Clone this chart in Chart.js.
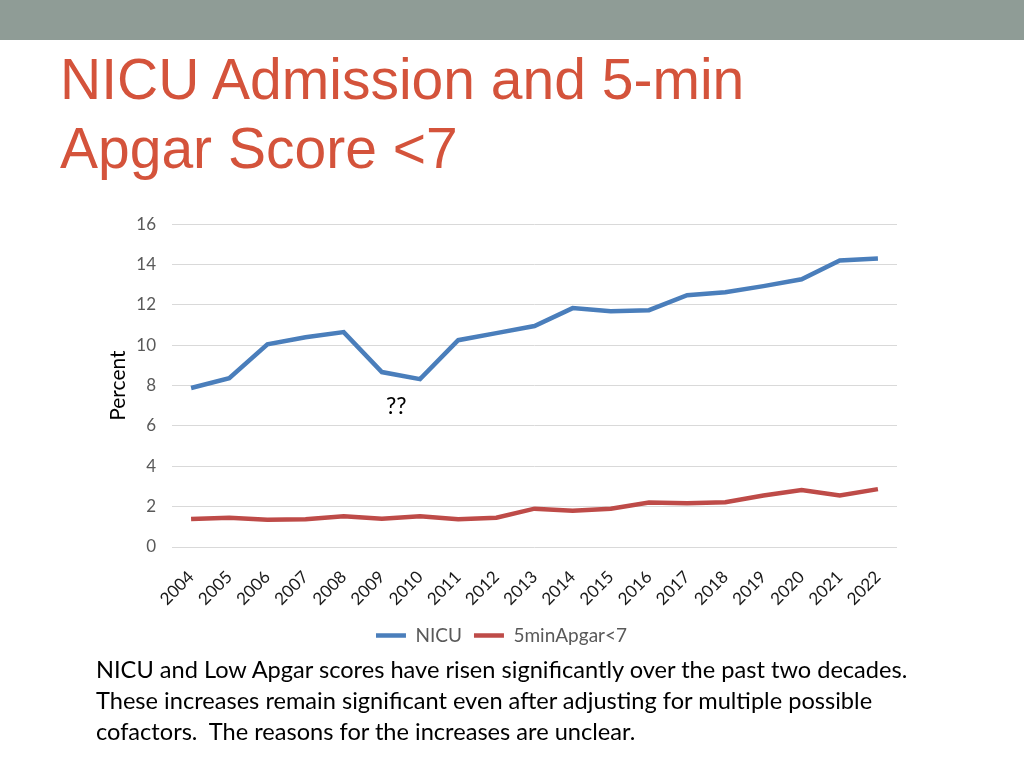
<!DOCTYPE html>
<html>
<head>
<meta charset="utf-8">
<script src="https://cdn.jsdelivr.net/npm/chart.js@4.4.1/dist/chart.umd.min.js"></script>
<style>
  html, body { margin: 0; padding: 0; background: #fff; }
  body { width: 1024px; height: 768px; position: relative; overflow: hidden; }
  .banner { position: absolute; left: 0; top: 0; width: 1024px; height: 40px; background: #8f9c96; }
  .title { position: absolute; left: 60px; top: 45px; margin: 0; font: 400 57px/69px "Liberation Sans", Arial, sans-serif; color: #d4533b; }
  .note { position: absolute; left: 386px; top: 391px; font: 23px "Lato", sans-serif; color: #000; }
  .body { position: absolute; left: 96px; top: 654px; margin: 0; font: 23.6px/31px "Lato", sans-serif; color: #000; }
  #wrap { position: absolute; left: 100px; top: 198px; width: 810px; height: 457px; }
</style>
</head>
<body>
<div class="banner"></div>
<h1 class="title">NICU Admission and 5-min<br>Apgar Score &lt;7</h1>
<div id="wrap"><canvas id="chart"></canvas></div>
<div class="note">??</div>
<p class="body">NICU and Low Apgar scores have risen significantly over the past two decades.<br>These increases remain significant even after adjusting for multiple possible<br>cofactors.&nbsp; The reasons for the increases are unclear.</p>
<script>
const years = ['2004', '2005', '2006', '2007', '2008', '2009', '2010', '2011', '2012', '2013',
  '2014', '2015', '2016', '2017', '2018', '2019', '2020', '2021', '2022'];
const nicu = [7.88, 8.37, 10.05, 10.4, 10.65, 8.67, 8.32, 10.25, 10.6, 10.95,
  11.84, 11.69, 11.74, 12.48, 12.63, 12.93, 13.27, 14.2, 14.3];
const apgar = [1.39, 1.45, 1.35, 1.37, 1.52, 1.4, 1.53, 1.38, 1.45, 1.9,
  1.8, 1.9, 2.2, 2.17, 2.22, 2.55, 2.83, 2.55, 2.87];

const textColor = '#595959';
const gridColor = '#d9d9d9';

new Chart(document.getElementById('chart'), {
  type: 'line',
  data: {
    labels: years,
    datasets: [
      { label: 'NICU', data: nicu, borderColor: '#4a7ebb', backgroundColor: '#4a7ebb', borderWidth: 4.5, pointRadius: 0, tension: 0 },
      { label: '5minApgar<7', data: apgar, borderColor: '#be4b48', backgroundColor: '#be4b48', borderWidth: 4.5, pointRadius: 0, tension: 0 }
    ]
  },
  options: {
    responsive: true,
    maintainAspectRatio: false,
    animation: false,
    layout: { padding: { top: 2, right: 13, left: 6, bottom: 0 } },
    plugins: {
      tooltip: { enabled: false },
      legend: {
        position: 'bottom',
        labels: { usePointStyle: true, pointStyle: 'line', pointStyleWidth: 30, boxWidth: 30, color: textColor, font: { family: 'Lato', size: 19 }, padding: 12 }
      }
    },
    scales: {
      x: {
        offset: true,
        grid: { display: false },
        border: { display: false },
        ticks: { color: '#1a1a1a', font: { family: 'Lato', size: 17 }, minRotation: 45, maxRotation: 45, padding: 12 },
        afterFit: (scale) => { scale.height = 67; }
      },
      y: {
        min: 0,
        max: 16,
        ticks: { stepSize: 2, color: textColor, font: { family: 'Lato', size: 17 }, padding: 16 },
        grid: { color: gridColor, lineWidth: 1, drawTicks: false },
        border: { display: false },
        title: { display: true, text: 'Percent', color: '#000', font: { family: 'Lato', size: 21 }, padding: 0 },
        afterFit: (scale) => { scale.width = 66; }
      }
    }
  }
});
</script>
</body>
</html>
